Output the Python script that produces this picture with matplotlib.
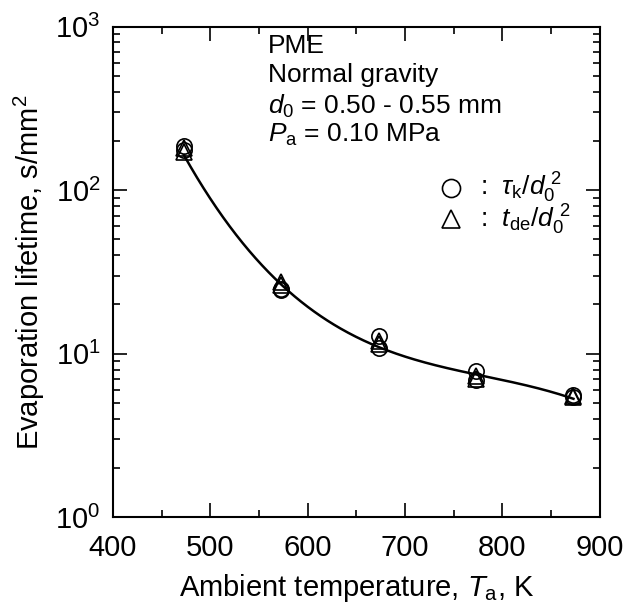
import numpy as np
import matplotlib
matplotlib.use("Agg")
import matplotlib.pyplot as plt
from matplotlib.ticker import LogLocator, MultipleLocator, LogFormatterMathtext, NullFormatter

plt.rcParams['font.family'] = ['Liberation Sans', 'DejaVu Sans']
plt.rcParams['mathtext.fontset'] = 'custom'
plt.rcParams['mathtext.rm'] = 'Liberation Sans'
plt.rcParams['mathtext.it'] = 'Liberation Sans:italic'
plt.rcParams['mathtext.bf'] = 'Liberation Sans:bold'

# Ambient temperature (K)
temperature = [473, 573, 673, 773, 873]
# tau_k / d0^2 (s/mm^2), two runs per temperature
tau_run1 = [186, 25.0, 12.8, 7.8, 5.6]
tau_run2 = [176, 24.6, 10.8, 6.9, 5.4]
# t_de / d0^2 (s/mm^2), two runs per temperature
tde_run1 = [172, 27.5, 12.0, 7.3, 5.5]
tde_run2 = [180, 26.5, 11.5, 7.0, 5.4]
# Smooth fit through the data
fit_values = [165, 25.5, 11.6, 7.2, 5.35]

fig = plt.figure(figsize=(6.38, 6.05), dpi=100)
ax = fig.add_axes([0.177, 0.145, 0.763, 0.811])

coef = np.polyfit(temperature, np.log10(fit_values), 3)
tt = np.linspace(temperature[0], temperature[-1], 300)
ax.plot(tt, 10 ** np.polyval(coef, tt), color='black', lw=1.8, zorder=2)

mk = dict(ms=11, mfc='none', mec='black', mew=1.2, ls='none', zorder=3)
ax.plot(temperature, tau_run1, marker='o', **mk)
ax.plot(temperature, tau_run2, marker='o', **mk)
ax.plot(temperature, tde_run1, marker='^', **mk)
ax.plot(temperature, tde_run2, marker='^', **mk)

ax.set_yscale('log')
ax.set_xlim(400, 900)
ax.set_ylim(1, 1000)
ax.xaxis.set_major_locator(MultipleLocator(100))
ax.xaxis.set_minor_locator(MultipleLocator(50))
ax.yaxis.set_major_locator(LogLocator(base=10))
ax.yaxis.set_minor_locator(LogLocator(base=10, subs=np.arange(2, 10)))
ax.yaxis.set_major_formatter(LogFormatterMathtext())
ax.yaxis.set_minor_formatter(NullFormatter())

ax.tick_params(which='both', direction='in', top=True, right=True, width=1.2, labelsize=21)
ax.tick_params(which='major', length=10)
ax.tick_params(axis='x', which='major', pad=12)
ax.tick_params(axis='y', which='major', pad=9)
ax.tick_params(which='minor', length=5)
for s in ax.spines.values():
    s.set_linewidth(1.5)

ax.set_xlabel(r'Ambient temperature, $T_\mathrm{a}$, K', fontsize=21, labelpad=7)
ax.set_ylabel(r'Evaporation lifetime, s/mm$^2$', fontsize=21, labelpad=6)

tx = 0.318
ax.text(tx, 0.985, 'PME', transform=ax.transAxes, fontsize=19, va='top')
ax.text(tx, 0.925, 'Normal gravity', transform=ax.transAxes, fontsize=19, va='top')
ax.text(tx, 0.865, r'$d_0$ = 0.50 - 0.55 mm', transform=ax.transAxes, fontsize=19, va='top')
ax.text(tx, 0.805, r'$P_\mathrm{a}$ = 0.10 MPa', transform=ax.transAxes, fontsize=19, va='top')

# Legend entries
lx = 0.695
ax.plot([lx], [0.672], marker='o', transform=ax.transAxes, ms=13, mfc='none', mec='black', mew=1.2, clip_on=False)
ax.plot([lx], [0.607], marker='^', transform=ax.transAxes, ms=13, mfc='none', mec='black', mew=1.2, clip_on=False)
ax.text(0.755, 0.672, r':  $\tau_\mathrm{k}/d_0^{\ 2}$', transform=ax.transAxes, fontsize=19, va='center')
ax.text(0.755, 0.607, r':  $t_\mathrm{de}/d_0^{\ 2}$', transform=ax.transAxes, fontsize=19, va='center')

fig.savefig('out.png', dpi=100)
